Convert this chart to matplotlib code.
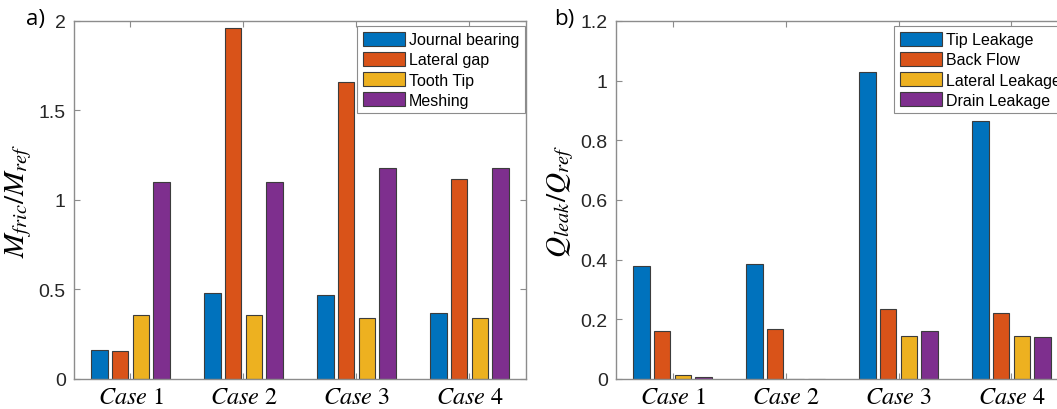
"""
plot.py
=======
Two grouped bar panels: a) normalised friction moment per source,
b) normalised leakage flow per path, for four simulation cases.
Saves out.png (1057x410).
"""

import numpy as np
import matplotlib
matplotlib.use("Agg")
import matplotlib.pyplot as plt

# ── Data ──────────────────────────────────────────────────────────────────────
cases = [r"$Case\ 1$", r"$Case\ 2$", r"$Case\ 3$", r"$Case\ 4$"]

fric_labels  = ["Journal bearing", "Lateral gap", "Tooth Tip", "Meshing"]
journal      = [0.16, 0.48, 0.47, 0.37]
lateral_gap  = [0.155, 1.96, 1.66, 1.12]
tooth_tip    = [0.36, 0.36, 0.34, 0.34]
meshing      = [1.10, 1.10, 1.18, 1.18]

leak_labels  = ["Tip Leakage", "Back Flow", "Lateral Leakage", "Drain Leakage"]
tip_leak     = [0.38, 0.385, 1.03, 0.865]
back_flow    = [0.16, 0.168, 0.235, 0.22]
lat_leak     = [0.015, 0.0, 0.145, 0.145]
drain_leak   = [0.006, 0.0, 0.16, 0.14]

# MATLAB default colour order
COLORS = ["#0072BD", "#D95319", "#EDB120", "#7E2F8E"]
AX_GRAY   = "#8c8c8c"
TEXT_GRAY = "#262626"

plt.rcParams["font.family"] = ["Liberation Sans", "DejaVu Sans"]
plt.rcParams["mathtext.fontset"] = "stix"


# ── Helpers ───────────────────────────────────────────────────────────────────

def grouped_bars(ax, series, labels, ylim, yticks, yticklabels, ylabel, leg_x):
    n = len(series)
    x = np.arange(1, len(cases) + 1)
    slot = min(0.8, n / (n + 1.5)) / n
    for i, (vals, lab) in enumerate(zip(series, labels)):
        off = (i - (n - 1) / 2) * slot
        ax.bar(x + off, vals, width=0.8 * slot, color=COLORS[i],
               edgecolor="#3c3c3c", linewidth=0.8, label=lab, zorder=2)

    ax.set_xlim(0.5, 4.5)
    ax.set_ylim(*ylim)
    ax.set_xticks(x)
    ax.set_xticklabels(cases, fontsize=17.5, color="black")
    ax.set_yticks(yticks)
    ax.set_yticklabels(yticklabels, fontsize=14, color=TEXT_GRAY)
    ax.tick_params(axis="both", direction="in", length=4, width=0.8,
                   color=AX_GRAY, top=True, right=True)
    ax.tick_params(axis="x", pad=5)
    ax.tick_params(axis="y", pad=6)
    for sp in ax.spines.values():
        sp.set_color(AX_GRAY)
        sp.set_linewidth(1.0)
    ax.set_ylabel(ylabel, fontsize=21, labelpad=3)

    leg = ax.legend(loc="upper left", bbox_to_anchor=(leg_x, 0.985),
                    borderaxespad=0, fontsize=11.5, frameon=True,
                    fancybox=False, framealpha=1, edgecolor=AX_GRAY,
                    handlelength=2.65, handleheight=0.95,
                    handletextpad=0.25, labelspacing=0.3,
                    borderpad=0.35)
    leg.get_frame().set_linewidth(0.8)


# ── Figure ────────────────────────────────────────────────────────────────────

fig = plt.figure(figsize=(10.57, 4.10), dpi=100)
ax_a = fig.add_axes([0.0700, 0.0732, 0.4276, 0.8732])
ax_b = fig.add_axes([0.5828, 0.0732, 0.4276, 0.8732])

grouped_bars(ax_a, [journal, lateral_gap, tooth_tip, meshing], fric_labels,
             (0, 2), [0, 0.5, 1, 1.5, 2], ["0", "0.5", "1", "1.5", "2"],
             r"$M_{fric}/M_{ref}$", 0.626)
grouped_bars(ax_b, [tip_leak, back_flow, lat_leak, drain_leak], leak_labels,
             (0, 1.2), [0, 0.2, 0.4, 0.6, 0.8, 1, 1.2],
             ["0", "0.2", "0.4", "0.6", "0.8", "1", "1.2"],
             r"$Q_{leak}/Q_{ref}$", 0.615)

fig.text(26 / 1057, 1 - 19 / 410, "a)", fontsize=16, family="Open Sans",
         va="center", ha="left")
fig.text(554 / 1057, 1 - 19 / 410, "b)", fontsize=16, family="Open Sans",
         va="center", ha="left")

fig.savefig("out.png", dpi=100)
plt.close(fig)
